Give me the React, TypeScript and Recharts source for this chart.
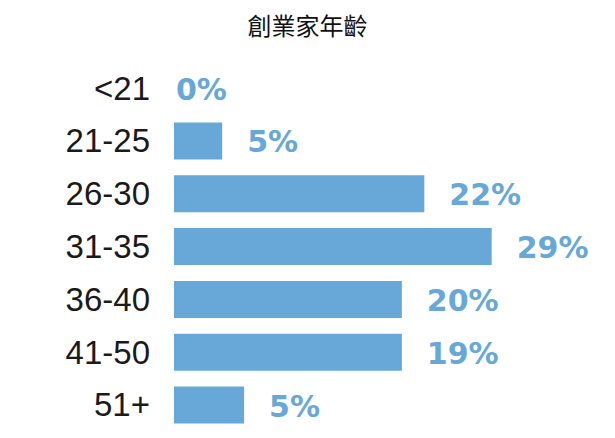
import { BarChart, Bar, XAxis, YAxis, LabelList } from "recharts";

const ageGroups = ["<21", "21-25", "26-30", "31-35", "36-40", "41-50", "51+"];
// bar lengths as drawn in the picture (not exactly proportional to the labels)
const barLengths = [0, 4.4, 22.85, 29, 20.8, 20.8, 6.4];
const shareLabels = ["0%", "5%", "22%", "29%", "20%", "19%", "5%"];

const data = ageGroups.map((group, i) => ({
  group,
  length: barLengths[i],
  share: shareLabels[i],
}));

const BLUE = "#68a8d8";
const TICK_GAP = 24;

const labelText = (x: number, y: number, text: string) => (
  <text
    x={x}
    y={y}
    fill={BLUE}
    fontSize={30}
    fontWeight="bold"
    fontFamily="'DejaVu Sans', sans-serif"
    dominantBaseline="central"
  >
    {text}
  </text>
);

const ShareLabel = (props: any) => {
  const { x, y, width, height, value } = props;
  return labelText(x + width + 25, y + height / 2 + 1, value);
};

// Bar skips zero-length entries (and their labels), so the tick draws that label
const GroupTick = (props: any) => {
  const { x, y, payload } = props;
  const entry = data.find((d) => d.group === payload.value);
  return (
    <g>
      <text
        x={x}
        y={y}
        textAnchor="end"
        dominantBaseline="central"
        fontSize={33}
        fill="#1a1a1a"
        fontFamily="'Liberation Sans', Arial, sans-serif"
      >
        {payload.value}
      </text>
      {entry && entry.length === 0 && labelText(x + TICK_GAP + 2, y + 1, entry.share)}
    </g>
  );
};

const App = () => {
  return (
    <div style={{ margin: -8, position: "relative", width: 615, height: 438, background: "#fff" }}>
      <div
        style={{
          position: "absolute",
          top: 10,
          left: 0,
          width: 615,
          textAlign: "center",
          fontFamily: "'Noto Sans CJK TC', sans-serif",
          fontSize: 24,
          color: "#111",
          lineHeight: "30px",
        }}
      >
        創業家年齡
      </div>
      <BarChart
        width={615}
        height={438}
        data={data}
        layout="vertical"
        margin={{ top: 61.6, right: 2.8, bottom: 6.6, left: 0 }}
      >
        <XAxis type="number" domain={[0, 40]} hide />
        <YAxis
          type="category"
          dataKey="group"
          width={174}
          axisLine={false}
          tickLine={false}
          tickSize={0}
          tickMargin={TICK_GAP}
          tick={GroupTick}
        />
        <Bar dataKey="length" fill={BLUE} barSize={37} isAnimationActive={false}>
          <LabelList dataKey="share" content={ShareLabel} />
        </Bar>
      </BarChart>
    </div>
  );
};

export default App;
